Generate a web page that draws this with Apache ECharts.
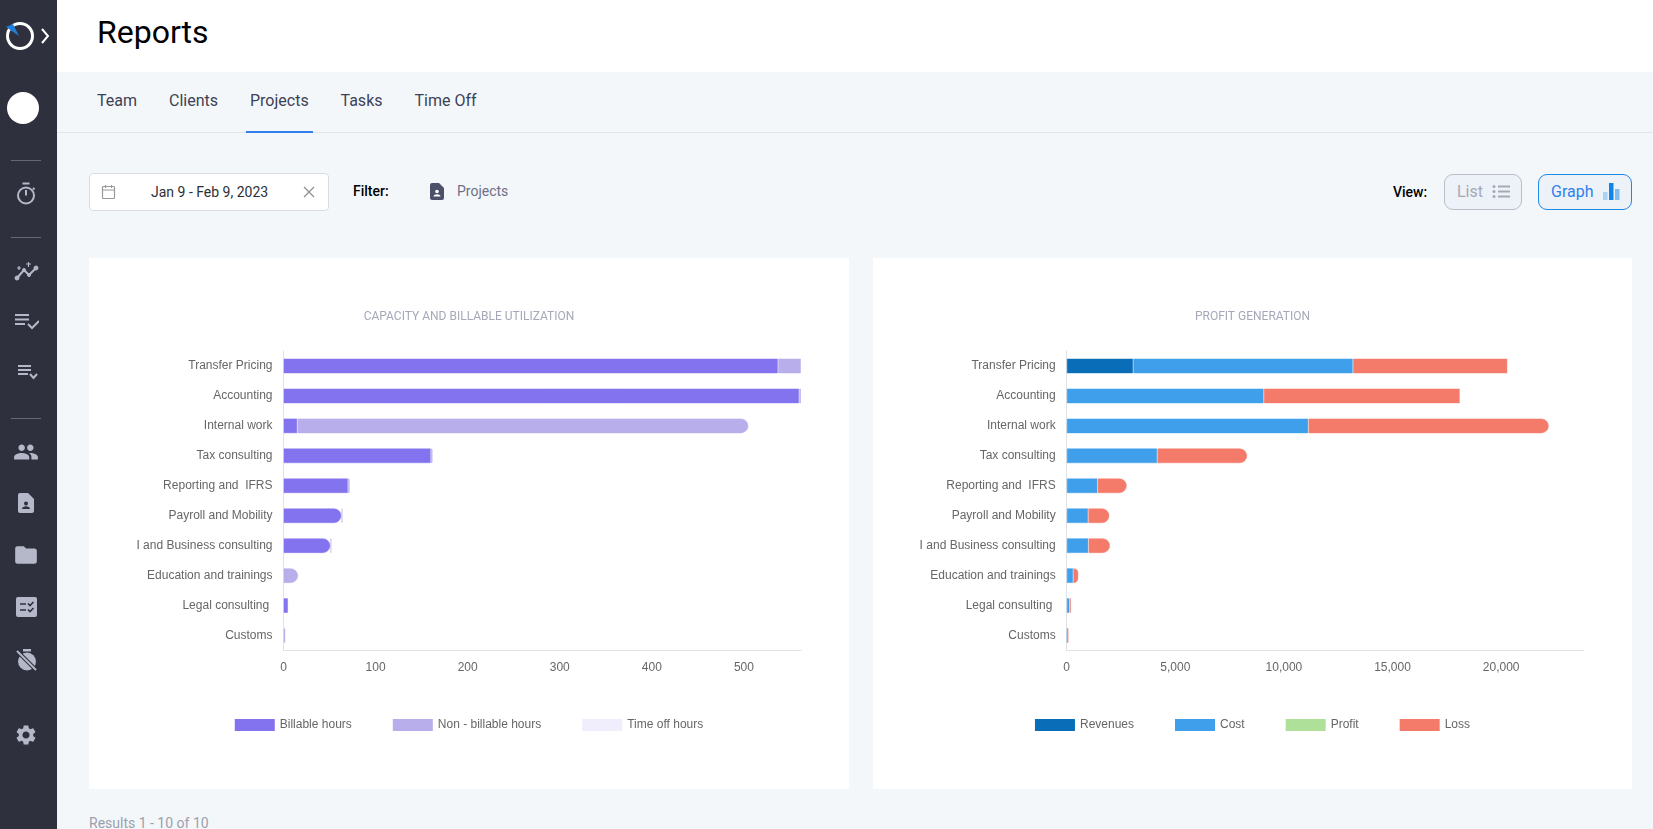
<!DOCTYPE html>
<html>
<head>
<meta charset="utf-8" />
<title>Reports</title>
<style>
html,body{margin:0;padding:0;width:1653px;height:829px;overflow:hidden;background:#f4f7fa;font-family:Roboto,sans-serif;}
.abs{position:absolute;white-space:nowrap;}
#side{position:absolute;left:0;top:0;width:57px;height:829px;background:#2e303e;}
#head{position:absolute;left:57px;top:0;right:0;height:72px;background:#fff;}
#tabline{position:absolute;left:57px;right:0;top:132px;height:1px;background:#e2e6ea;}
.tab{font-size:16px;color:#3c4256;top:91px;line-height:19px;}
.card{position:absolute;top:258px;height:531px;background:#fff;}
.side-icon{position:absolute;fill:#b4b8c8;}
.hr{position:absolute;left:11px;width:30px;height:1px;background:#666876;}
.btn{position:absolute;top:174px;height:34px;border-radius:9px;background:#edf2f9;box-sizing:content-box;}
</style>
</head>
<body>
<div id="side">
  <svg class="abs" style="left:0;top:16px" width="57" height="40">
    <circle cx="20" cy="20" r="12.5" fill="none" stroke="#fff" stroke-width="3"/>
    <path d="M19 20 L6 11 L13 8 Z" fill="#1e7fdc"/>
    <path d="M42 13 L48 20 L42 27" fill="none" stroke="#fff" stroke-width="2"/>
  </svg>
  <svg class="abs" style="left:7px;top:92px" width="32" height="32"><circle cx="16" cy="16" r="16" fill="#fff"/></svg>
  <div class="hr" style="top:160px"></div>
  <svg class="abs" style="left:14px;top:181px" width="24" height="26" fill="none" stroke="#b4b8c8" stroke-width="2"><circle cx="12" cy="14.5" r="8"/><path d="M8.5 2.5h7M12 14.5V9M19 7l1.5 1.5"/></svg>
  <div class="hr" style="top:237px"></div>
  <svg class="abs" style="left:14px;top:261px" width="26" height="24" fill="none" stroke="#b4b8c8"><path d="M3 17 L10 9 L15 14 L22 7" stroke-width="2"/><circle cx="3" cy="17" r="2" fill="#b4b8c8"/><circle cx="10" cy="9" r="1.5" fill="#b4b8c8"/><circle cx="15" cy="14" r="1.5" fill="#b4b8c8"/><circle cx="22" cy="7" r="2" fill="#b4b8c8"/><path d="M3 7h4M5 5v4M12 3h5M14.5 1v5" stroke-width="1.2"/></svg>
  <svg class="abs" style="left:15px;top:313px" width="24" height="18" fill="none" stroke="#b4b8c8" stroke-width="2"><path d="M0 2h14M0 6.500h14M0 11h10M13 11l4 4 7-7"/></svg>
  <svg class="abs" style="left:18px;top:364px" width="20" height="16" fill="none" stroke="#b4b8c8" stroke-width="2"><path d="M0 2h13M0 6h13M0 10h10M12 10l3.500 4 3.500-4"/></svg>
  <div class="hr" style="top:418px"></div>
  <svg class="side-icon" style="left:13px;top:439px" width="26" height="26" viewBox="0 0 24 24"><path d="M16 11c1.66 0 2.99-1.34 2.99-3S17.66 5 16 5c-1.66 0-3 1.34-3 3s1.34 3 3 3zm-8 0c1.66 0 2.99-1.34 2.99-3S9.66 5 8 5C6.34 5 5 6.34 5 8s1.34 3 3 3zm0 2c-2.33 0-7 1.17-7 3.5V19h14v-2.500c0-2.330-4.670-3.500-7-3.500zm8 0c-.29 0-.62.02-.97.05 1.160.84 1.970 1.970 1.970 3.450V19h6v-2.500c0-2.330-4.670-3.500-7-3.500z"/></svg>
  <svg class="side-icon" style="left:14px;top:491px" width="24" height="24" viewBox="0 0 24 24"><path d="M14 2H6c-1.100 0-2 .9-2 2v16c0 1.100.9 2 2 2h12c1.100 0 2-.9 2-2V8l-6-6z"/><circle cx="12" cy="12.500" r="2" fill="#2e303e"/><path d="M8 18c0-1.800 2.200-2.800 4-2.800s4 1 4 2.800z" fill="#2e303e"/></svg>
  <svg class="side-icon" style="left:13px;top:542px" width="26" height="26" viewBox="0 0 24 24"><path d="M10 4H4c-1.100 0-1.990.9-1.990 2L2 18c0 1.100.9 2 2 2h16c1.100 0 2-.9 2-2V8c0-1.100-.9-2-2-2h-8l-2-2z"/></svg>
  <svg class="abs" style="left:16px;top:597px" width="21" height="20"><rect width="21" height="20" rx="2" fill="#b4b8c8"/><path d="M4 7h6M4 13h6M12 6.500l2 2 3.500-3.500M12 12.500l2 2 3.500-3.500" stroke="#2e303e" stroke-width="1.600" fill="none"/></svg>
  <svg class="abs" style="left:15px;top:648px" width="24" height="24"><circle cx="12" cy="13.500" r="9" fill="#b4b8c8"/><rect x="8" y="1" width="8" height="2.500" fill="#b4b8c8"/><path d="M2 3 L22 23" stroke="#2e303e" stroke-width="4"/><path d="M2 3 L21 22" stroke="#b4b8c8" stroke-width="2"/></svg>
  <svg class="side-icon" style="left:14px;top:723px" width="24" height="24" viewBox="0 0 24 24"><path d="M19.140 12.940c.04-.3.060-.61.060-.94 0-.32-.02-.64-.07-.94l2.030-1.580c.18-.14.230-.41.120-.61l-1.920-3.320c-.12-.22-.37-.29-.59-.22l-2.390.96c-.5-.38-1.030-.7-1.620-.94l-.36-2.540c-.04-.24-.24-.41-.48-.41h-3.840c-.24 0-.43.170-.47.41l-.36 2.540c-.59.240-1.130.570-1.620.94l-2.390-.96c-.22-.08-.47 0-.59.220L2.740 8.870c-.12.210-.08.470.120.610l2.030 1.580c-.05.3-.09.630-.09.940s.02.640.07.940l-2.030 1.580c-.18.140-.23.410-.12.610l1.920 3.320c.12.220.370.290.590.220l2.390-.96c.5.380 1.030.7 1.620.94l.36 2.540c.05.240.240.410.480.410h3.840c.24 0 .44-.17.470-.41l.36-2.540c.59-.24 1.130-.56 1.620-.94l2.390.96c.22.080.47 0 .59-.22l1.920-3.320c.12-.22.070-.47-.12-.61l-2.010-1.580zM12 15.600c-1.980 0-3.600-1.620-3.600-3.600s1.620-3.600 3.600-3.600 3.600 1.620 3.600 3.600-1.620 3.600-3.600 3.600z"/></svg>
</div>

<div id="head"></div>
<div class="abs" style="left:97px;top:13px;font-size:32px;line-height:38px;color:#000;">Reports</div>

<div class="abs tab" style="left:97px">Team</div>
<div class="abs tab" style="left:169px">Clients</div>
<div class="abs tab" style="left:250px">Projects</div>
<div class="abs tab" style="left:340.5px">Tasks</div>
<div class="abs tab" style="left:414.5px">Time Off</div>
<div id="tabline"></div>
<div class="abs" style="left:246px;top:131px;width:67px;height:2px;background:#2f80ed"></div>

<div class="abs" style="left:89px;top:173px;width:238px;height:36px;background:#fff;border:1px solid #d9dde3;border-radius:4px"></div>
<svg class="abs" style="left:101px;top:184px" width="16" height="17" fill="none" stroke="#9a9a9a" stroke-width="1.200"><rect x="1.500" y="2.500" width="12" height="12" rx="1"/><path d="M1.500 6h12M4.500 1v3M10.500 1v3"/></svg>
<div class="abs" style="left:151px;top:184px;font-size:14px;line-height:16px;color:#2b2f38">Jan 9 - Feb 9, 2023</div>
<svg class="abs" style="left:303px;top:186px" width="12" height="12" stroke="#8e8e8e" stroke-width="1.200"><path d="M1 1L11 11M11 1L1 11"/></svg>

<div class="abs" style="left:353px;top:183px;font-size:14px;line-height:16px;font-weight:500;color:#000">Filter:</div>
<svg class="abs" style="left:430px;top:183px" width="14" height="17"><path d="M2 0h7l5 5v10a2 2 0 0 1-2 2H2a2 2 0 0 1-2-2V2a2 2 0 0 1 2-2z" fill="#4c5068"/><circle cx="7" cy="8.500" r="1.800" fill="#fff"/><path d="M3.500 13.500c0-1.600 2-2.300 3.500-2.300s3.500.7 3.500 2.300z" fill="#fff"/></svg>
<div class="abs" style="left:457px;top:183px;font-size:14px;line-height:16px;color:#6b7085">Projects</div>

<div class="abs" style="left:1393px;top:184px;font-size:14px;line-height:16px;font-weight:500;color:#000">View:</div>
<div class="btn" style="left:1444px;width:76px;border:1px solid #b8becb"></div>
<div class="abs" style="left:1457px;top:182px;font-size:16px;line-height:19px;color:#a5a9b5">List</div>
<svg class="abs" style="left:1492px;top:184px" width="18" height="15" fill="#a5a9b5"><circle cx="2" cy="2.500" r="1.500"/><circle cx="2" cy="7.500" r="1.500"/><circle cx="2" cy="12.500" r="1.500"/><rect x="6" y="1.500" width="12" height="2"/><rect x="6" y="6.500" width="12" height="2"/><rect x="6" y="11.500" width="12" height="2"/></svg>
<div class="btn" style="left:1538px;width:92px;border:1px solid #1e88e5"></div>
<div class="abs" style="left:1551px;top:182px;font-size:16px;line-height:19px;color:#2f80ed">Graph</div>
<svg class="abs" style="left:1603px;top:183px" width="17" height="17"><rect x="0" y="9" width="4.500" height="8" fill="#a9d3f5"/><rect x="6" y="0" width="4.500" height="17" fill="#1385e6"/><rect x="12" y="6" width="4.500" height="11" fill="#82bdf0"/></svg>

<div class="card" id="echart1" style="left:89px;width:760px"></div>
<div class="card" id="echart2" style="left:873px;width:759px"></div>

<div class="abs" style="left:89px;top:815px;font-size:14px;line-height:16px;color:#9aa0ac">Results 1 - 10 of 10</div>

<script src="https://cdn.jsdelivr.net/npm/echarts@6/dist/echarts.min.js"></script>
<script>
var projects = ['Transfer Pricing', 'Accounting', 'Internal work', 'Tax consulting', 'Reporting and  IFRS', 'Payroll and Mobility', 'I and Business consulting', 'Education and trainings', 'Legal consulting ', 'Customs'];

var billable = [537, 560, 15, 160, 70, 63, 51, 0, 5, 0];
var nonBillable = [25, 2, 490, 2, 2, 1, 1, 16, 0, 2];
var timeOff = [0, 0, 0, 0, 0, 0, 0, 0, 0, 0];

var revenues = [3060, 0, 0, 0, 0, 0, 0, 0, 0, 0];
var cost = [10115, 9070, 11125, 4170, 1420, 990, 1000, 300, 130, 50];
var profit = [0, 0, 0, 0, 0, 0, 0, 0, 0, 0];
var loss = [7115, 9030, 11075, 4145, 1350, 980, 1000, 240, 65, 10];

// rows where the bar stays square at the end
var squareRows = ['Transfer Pricing', 'Accounting', 'Legal consulting '];
// rows where the first segment is rounded as well
var roundBoth = ['Payroll and Mobility', 'I and Business consulting'];

var labelColor = '#666';
var lineColor = '#e0e2e6';

function buildSeries(list) {
    var series = [];
    for (var s = 0; s < list.length; s++) {
        var data = [];
        for (var i = 0; i < projects.length; i++) {
            var last = true;
            for (var k = s + 1; k < list.length; k++) {
                if (list[k].values[i] > 0) last = false;
            }
            var v = list[s].values[i];
            var radius = 0;
            if (v > 0 && squareRows.indexOf(projects[i]) < 0 && (last || (list === leftList && roundBoth.indexOf(projects[i]) >= 0))) {
                radius = [0, 8, 8, 0];
            }
            data.push({
                value: v,
                itemStyle: {
                    borderRadius: radius,
                    borderWidth: v > 0 ? 1 : 0,
                    borderColor: list[s].border
                }
            });
        }
        series.push({
            name: list[s].name,
            type: 'bar',
            stack: 'total',
            barWidth: 15,
            itemStyle: { color: list[s].color },
            data: data
        });
    }
    return series;
}

function buildOption(title, list, gridLeft, gridWidth, max, interval, useComma) {
    return {
        animation: false,
        title: {
            text: title,
            left: 'center',
            top: 48,
            textStyle: { fontFamily: 'Roboto', fontSize: 12, fontWeight: 'normal', color: '#a5a8b8' }
        },
        legend: {
            left: 'center',
            top: 456,
            itemWidth: 40,
            itemHeight: 12,
            itemGap: 41,
            icon: 'rect',
            itemStyle: { borderWidth: 0 },
            textStyle: { fontFamily: 'Liberation Sans', fontSize: 12, color: labelColor },
            data: list.map(function (d) { return d.name; })
        },
        grid: { left: gridLeft, top: 93, width: gridWidth, height: 299.5 },
        xAxis: {
            type: 'value',
            min: 0,
            max: max,
            interval: interval,
            splitLine: { show: false },
            axisTick: { show: false },
            axisLine: { show: true, lineStyle: { color: lineColor } },
            axisLabel: {
                showMaxLabel: false,
                margin: 11,
                fontFamily: 'Liberation Sans',
                fontSize: 12,
                color: labelColor,
                formatter: function (v) { return useComma ? v.toLocaleString('en-US') : String(v); }
            }
        },
        yAxis: {
            type: 'category',
            inverse: true,
            data: projects,
            axisTick: { show: false },
            axisLine: { show: true, lineStyle: { color: lineColor } },
            axisLabel: { margin: 11, fontFamily: 'Liberation Sans', fontSize: 12, color: labelColor }
        },
        series: buildSeries(list)
    };
}

var leftList = [
    { name: 'Billable hours', values: billable, color: '#8473ee', border: 'rgba(132,115,238,0.45)' },
    { name: 'Non - billable hours', values: nonBillable, color: '#b8aeeb', border: 'rgba(184,174,235,0.5)' },
    { name: 'Time off hours', values: timeOff, color: '#f0edfd', border: '#f0edfd' }
];
var rightList = [
    { name: 'Revenues', values: revenues, color: '#0a6db8', border: 'rgba(10,109,184,0.45)' },
    { name: 'Cost', values: cost, color: '#3f9fea', border: 'rgba(63,159,234,0.45)' },
    { name: 'Profit', values: profit, color: '#aee09a', border: 'rgba(174,224,154,0.45)' },
    { name: 'Loss', values: loss, color: '#f47b6a', border: 'rgba(244,123,106,0.45)' }
];

var chart1 = echarts.init(document.getElementById('echart1'));
chart1.setOption(buildOption('CAPACITY AND BILLABLE UTILIZATION', leftList, 194.5, 517.5, 562, 100, false));
var chart2 = echarts.init(document.getElementById('echart2'));
chart2.setOption(buildOption('PROFIT GENERATION', rightList, 193.7, 517, 23800, 5000, true));
</script>
</body>
</html>
